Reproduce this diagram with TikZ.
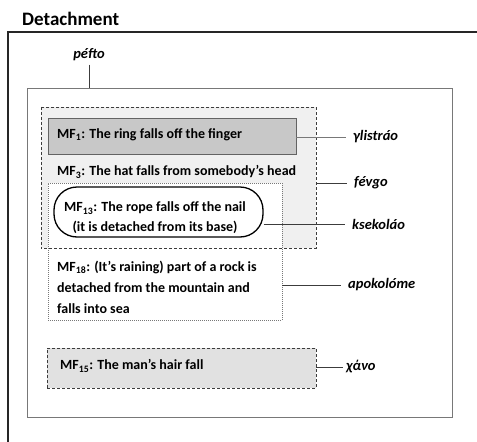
\documentclass[tikz,border=0pt]{standalone}
\usepackage{fontspec}
\setmainfont{Carlito}
\usetikzlibrary{positioning}
\definecolor{framegray}{RGB}{60,60,60}
\definecolor{linegray}{RGB}{120,120,120}
\definecolor{lightfill}{RGB}{240,240,240}
\definecolor{midfill}{RGB}{225,225,225}
\definecolor{darkfill}{RGB}{200,200,200}
\tikzset{
    % Boxes
    outerbox/.style={
        rectangle,
        draw=linegray,
        line width=0.8pt,
        fill=white
    },
    dashbox/.style={
        rectangle,
        draw=framegray,
        line width=0.6pt,
        dash pattern=on 3pt off 2pt
    },
    dotbox/.style={
        rectangle,
        draw=linegray,
        line width=0.6pt,
        dash pattern=on 1pt off 1pt,
        fill=white
    },
    greybox/.style={
        rectangle,
        draw=framegray!80,
        line width=0.8pt,
        fill=darkfill
    },
    loopbox/.style={
        rectangle,
        draw=black,
        line width=1.3pt,
        rounded corners=23pt
    },
    % Texts
    mftext/.style={
        font=\fontsize{14}{21}\selectfont\bfseries,
        inner sep=0pt
    },
    verblabel/.style={
        font=\fontsize{14.5}{16}\selectfont\bfseries\itshape,
        anchor=west,
        inner xsep=7pt
    },
    % Lines
    tie/.style={
        draw=framegray,
        line width=0.7pt
    }
}
\newcommand{\mf}[1]{MF\textsubscript{#1}}

\begin{document}
\begin{tikzpicture}[x=1pt,y=-1pt]
    \useasboundingbox (0,0) rectangle (477,442);

    % Title and frame
    \node[font=\fontsize{19}{22}\selectfont\bfseries, inner sep=0pt, anchor=west] (title) at (22,19) {Detachment};
    \draw[line width=1.5pt, draw=black!85] (477,32) -- (8,32) -- (8,442);

    % pefto box
    \node[outerbox, minimum width=425pt, minimum height=329pt] (peftobox) at (239.5,252.5) {};
    \node[font=\fontsize{14.5}{16}\selectfont\bfseries\itshape] (pefto) at (89,55) {péfto};

    % fevgo box (fill first, border later)
    \node[rectangle, fill=lightfill, minimum width=275pt, minimum height=141pt] (fevgobox) at (178.5,177.5) {};

    % dotted box for MF13 / MF18
    \node[dotbox, minimum width=234pt, minimum height=137pt] (rockbox) at (165,251.5) {};
    \draw[dashbox] (fevgobox.north west) rectangle (fevgobox.south east);

    % MF1
    \node[greybox, minimum width=248pt, minimum height=36pt] (ringbox) at (172,136) {};
    \node[mftext, anchor=west] (ring) at (57,135) {\mf{1}: The ring falls off the finger};

    % MF3
    \node[mftext, anchor=west] (hat) at (57,172) {\mf{3}: The hat falls from somebody’s head};

    % MF13
    \node[loopbox, minimum width=209pt, minimum height=50pt] (ropeloop) at (158.5,212) {};
    \node[mftext, align=center, font=\fontsize{14}{20}\selectfont\bfseries] (rope) at (155,218) {\mf{13}: The rope falls off the nail\\(it is detached from its base)};

    % MF18
    \node[mftext, align=left, anchor=west] (rock) at (57,287) {\mf{18}: (It’s raining) part of a rock is\\detached from the mountain and\\falls into sea};

    % MF15
    \node[dashbox, fill=midfill, minimum width=269pt, minimum height=40pt] (hairbox) at (181.5,368) {};
    \node[mftext, anchor=west] (hair) at (60,366) {\mf{15}: The man’s hair fall};

    % Verb labels
    \node[verblabel] (ylistrao) at (346,137) {γlistráo};
    \node[verblabel] (fevgo) at (347,183) {févgo};
    \node[verblabel] (ksekolao) at (345,224) {ksekoláo};
    \node[verblabel] (apokolome) at (341,285) {apokolóme};
    \node[verblabel, inner xsep=3pt] (xano) at (343,367) {χάνο};

    % Connectors
    \draw[tie] (pefto.south) -- (pefto.south |- peftobox.north);
    \draw[tie, draw=linegray] (ringbox.east |- ylistrao.west) -- (ylistrao.west);
    \draw[tie] (fevgobox.east |- fevgo.west) -- (fevgo.west);
    \draw[tie] (ropeloop.east |- ksekolao.west) -- (ksekolao.west);
    \draw[tie] (rockbox.east |- apokolome.west) -- (apokolome.west);
    \draw[tie] (hairbox.east |- xano.west) -- (xano.west);

\end{tikzpicture}
\end{document}
